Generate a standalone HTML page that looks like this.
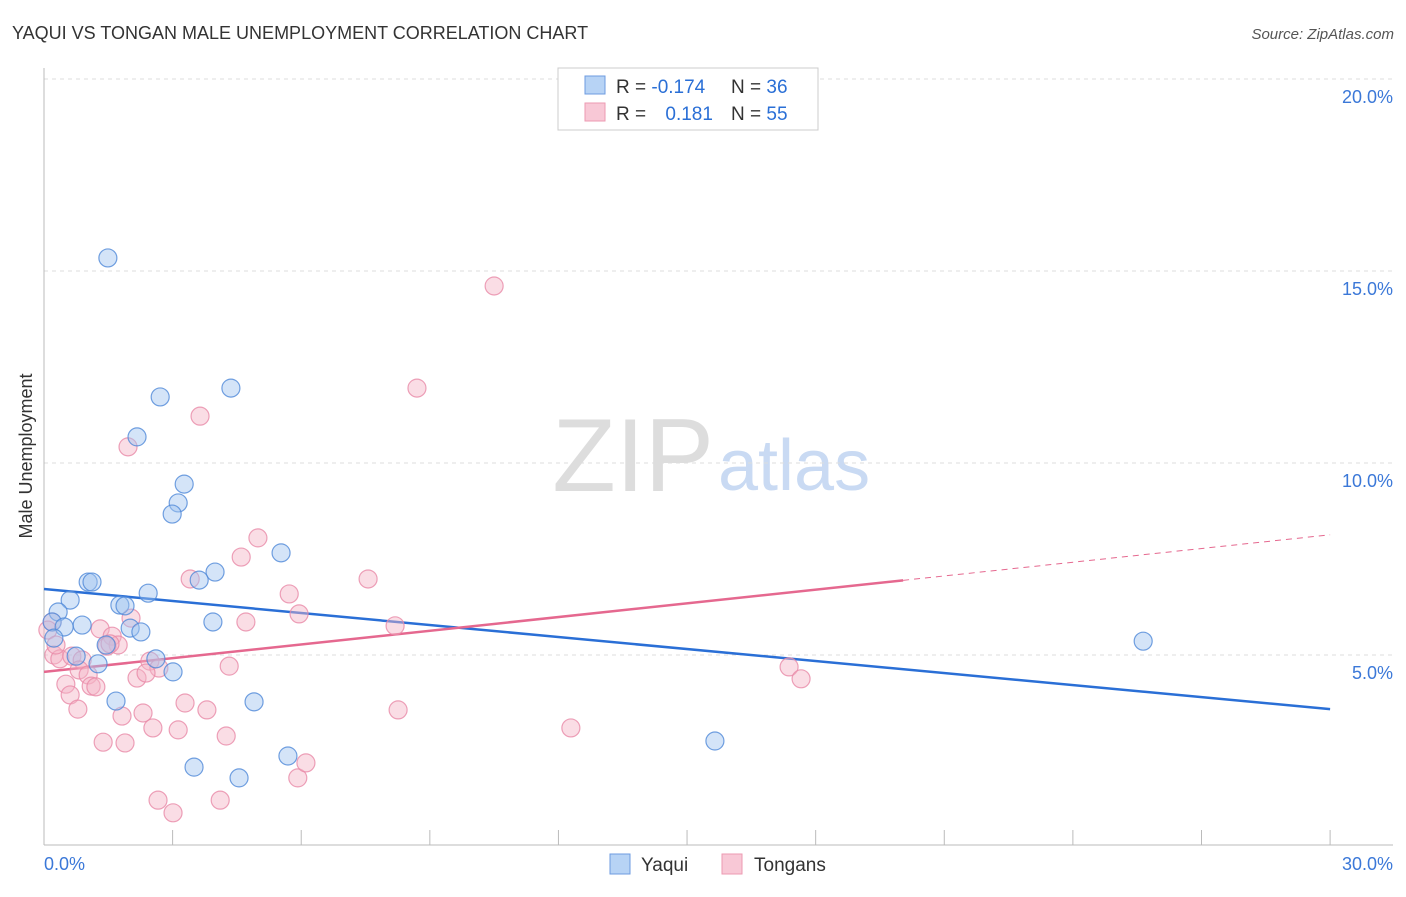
<!DOCTYPE html>
<html><head><meta charset="utf-8"><style>
body{margin:0;background:#fff;font-family:"Liberation Sans",sans-serif;}
svg text{font-family:"Liberation Sans",sans-serif;}
</style></head><body>
<svg id="chart" width="1406" height="892" viewBox="0 0 1406 892">
<text x="12" y="39" font-size="18" fill="#333">YAQUI VS TONGAN MALE UNEMPLOYMENT CORRELATION CHART</text>
<text x="1394" y="39" font-size="15" fill="#555" text-anchor="end" font-style="italic">Source: ZipAtlas.com</text>
<text x="32" y="456" font-size="18" fill="#333" text-anchor="middle" transform="rotate(-90 32 456)">Male Unemployment</text>
<text x="714" y="491" font-size="104" fill="#ddd" text-anchor="end" font-family="Liberation Serif">ZIP</text>
<text x="718" y="490" font-size="72" fill="#c9daf3">atlas</text>
<g id="grid"></g>
<g id="axes"></g>
<g id="lines"></g>
<g id="pts"></g>
<g>
<rect x="558" y="68" width="260" height="62" fill="#fff" stroke="#ccc"/>
<rect x="585" y="76" width="20" height="18" fill="#b7d3f5" stroke="#6d9be0"/>
<rect x="585" y="103" width="20" height="18" fill="#f8c8d6" stroke="#ec9ab2"/>
<text x="616" y="93" font-size="19" fill="#333">R = <tspan fill="#2a6fd6">-0.174</tspan></text>
<text x="731" y="93" font-size="19" fill="#333">N = <tspan fill="#2a6fd6">36</tspan></text>
<text x="616" y="120" font-size="19" fill="#333">R = <tspan fill="#2a6fd6" dx="14">0.181</tspan></text>
<text x="731" y="120" font-size="19" fill="#333">N = <tspan fill="#2a6fd6">55</tspan></text>
</g>
<g>
<rect x="610" y="854" width="20" height="20" fill="#b7d3f5" stroke="#6d9be0"/>
<text x="641" y="871" font-size="19" fill="#333">Yaqui</text>
<rect x="722" y="854" width="20" height="20" fill="#f8c8d6" stroke="#ec9ab2"/>
<text x="754" y="871" font-size="19" fill="#333">Tongans</text>
</g>
</svg>
<script>
const yTicks=[5,10,15,20];
const yTickLabels=["5.0%","10.0%","15.0%","20.0%"];
const xTickLabels=["0.0%","30.0%"];
const yaquiX=[1.49,2.71,4.36,2.17,3.27,3.13,2.99,5.53,3.99,3.62,1.03,1.12,2.43,0.61,1.77,1.89,0.33,0.19,0.47,0.89,2.01,2.26,3.94,0.23,1.45,2.61,0.75,1.26,3.01,1.68,4.90,5.69,3.50,4.55,15.65,25.64];
const yaquiY=[15.34,11.72,11.95,10.68,9.45,8.96,8.67,7.66,7.16,6.95,6.90,6.90,6.61,6.43,6.30,6.28,6.12,5.86,5.73,5.78,5.70,5.60,5.86,5.44,5.26,4.90,4.97,4.77,4.56,3.80,3.78,2.37,2.08,1.80,2.76,5.36];
const tongX=[10.50,8.70,3.64,1.96,4.99,4.60,3.41,7.56,5.72,5.95,4.71,8.19,2.03,1.31,1.59,1.73,1.47,0.23,0.37,0.65,0.89,2.47,2.68,0.82,1.03,4.32,17.38,17.66,0.51,1.10,1.21,2.17,2.38,0.61,3.29,3.80,0.79,1.82,2.31,8.26,2.54,3.13,12.29,4.25,1.38,1.89,5.92,6.11,2.66,4.11,3.01,0.19,0.09,0.28,1.54];
const tongY=[14.61,11.95,11.22,10.42,8.05,7.55,6.98,6.98,6.59,6.07,5.86,5.76,5.96,5.68,5.49,5.26,5.23,5.00,4.90,4.97,4.87,4.84,4.66,4.61,4.48,4.71,4.69,4.38,4.24,4.19,4.17,4.40,4.53,3.96,3.75,3.57,3.59,3.41,3.49,3.57,3.10,3.05,3.10,2.89,2.73,2.71,1.80,2.19,1.22,1.22,0.89,5.86,5.65,5.26,5.29];
const yaquiTrend=[6.72,3.59];
const tongTrend=[4.56,8.13];
const tongSolidEnd=20.04;
const NS="http://www.w3.org/2000/svg";
const sx=v=>44+v*42.87, sy=v=>847-v*38.4;
function mk(tag,attrs,parent){const e=document.createElementNS(NS,tag);for(const k in attrs)e.setAttribute(k,attrs[k]);parent.appendChild(e);return e;}
const grid=document.getElementById('grid'),axes=document.getElementById('axes'),lines=document.getElementById('lines'),pts=document.getElementById('pts');
yTicks.forEach((t,i)=>{
 const l=mk('line',{x1:44,x2:1393,y1:sy(t),y2:sy(t),stroke:'#ddd','stroke-dasharray':'4,4'},grid);
 
 
 const tx=mk('text',{x:1393,y:sy(t)+24,'font-size':18,fill:'#3b78d8','text-anchor':'end'},axes);
 tx.textContent=yTickLabels[i];
 
 
});
let a=mk('line',{x1:44,x2:44,y1:68,y2:845,stroke:'#bbb'},axes);


a=mk('line',{x1:44,x2:1393,y1:845,y2:845,stroke:'#bbb'},axes);


for(let k=1;k<=10;k++){
 const t=mk('line',{x1:sx(k*3),x2:sx(k*3),y1:830,y2:845,stroke:'#bbb'},axes);
 
 
}
let xl=mk('text',{x:44,y:870,'font-size':18,fill:'#3b78d8'},axes);xl.textContent=xTickLabels[0];


xl=mk('text',{x:1393,y:870,'font-size':18,fill:'#3b78d8','text-anchor':'end'},axes);xl.textContent=xTickLabels[1];


function dot(x,y,f,s,name){const c=mk('circle',{cx:sx(x),cy:sy(y),r:9,fill:f,'fill-opacity':0.45,stroke:s,'stroke-opacity':0.8,'stroke-width':1.2},pts);
 
 }
tongX.forEach((x,i)=>dot(x,tongY[i],'#f4b3c6','#e98aa7','tongans-point'));
yaquiX.forEach((x,i)=>dot(x,yaquiY[i],'#9fc3ef','#4f88d8','yaqui-point'));
let ln=mk('line',{x1:sx(0),y1:sy(yaquiTrend[0]),x2:sx(30),y2:sy(yaquiTrend[1]),stroke:'#2a6fd6','stroke-width':2.5},lines);


const tv=x=>tongTrend[0]+(tongTrend[1]-tongTrend[0])*x/30;
ln=mk('line',{x1:sx(0),y1:sy(tv(0)),x2:sx(tongSolidEnd),y2:sy(tv(tongSolidEnd)),stroke:'#e5688f','stroke-width':2.5},lines);


ln=mk('line',{x1:sx(tongSolidEnd),y1:sy(tv(tongSolidEnd)),x2:sx(30),y2:sy(tv(30)),stroke:'#e5688f','stroke-width':1,'stroke-dasharray':'6,5'},lines);


</script>
</body></html>
